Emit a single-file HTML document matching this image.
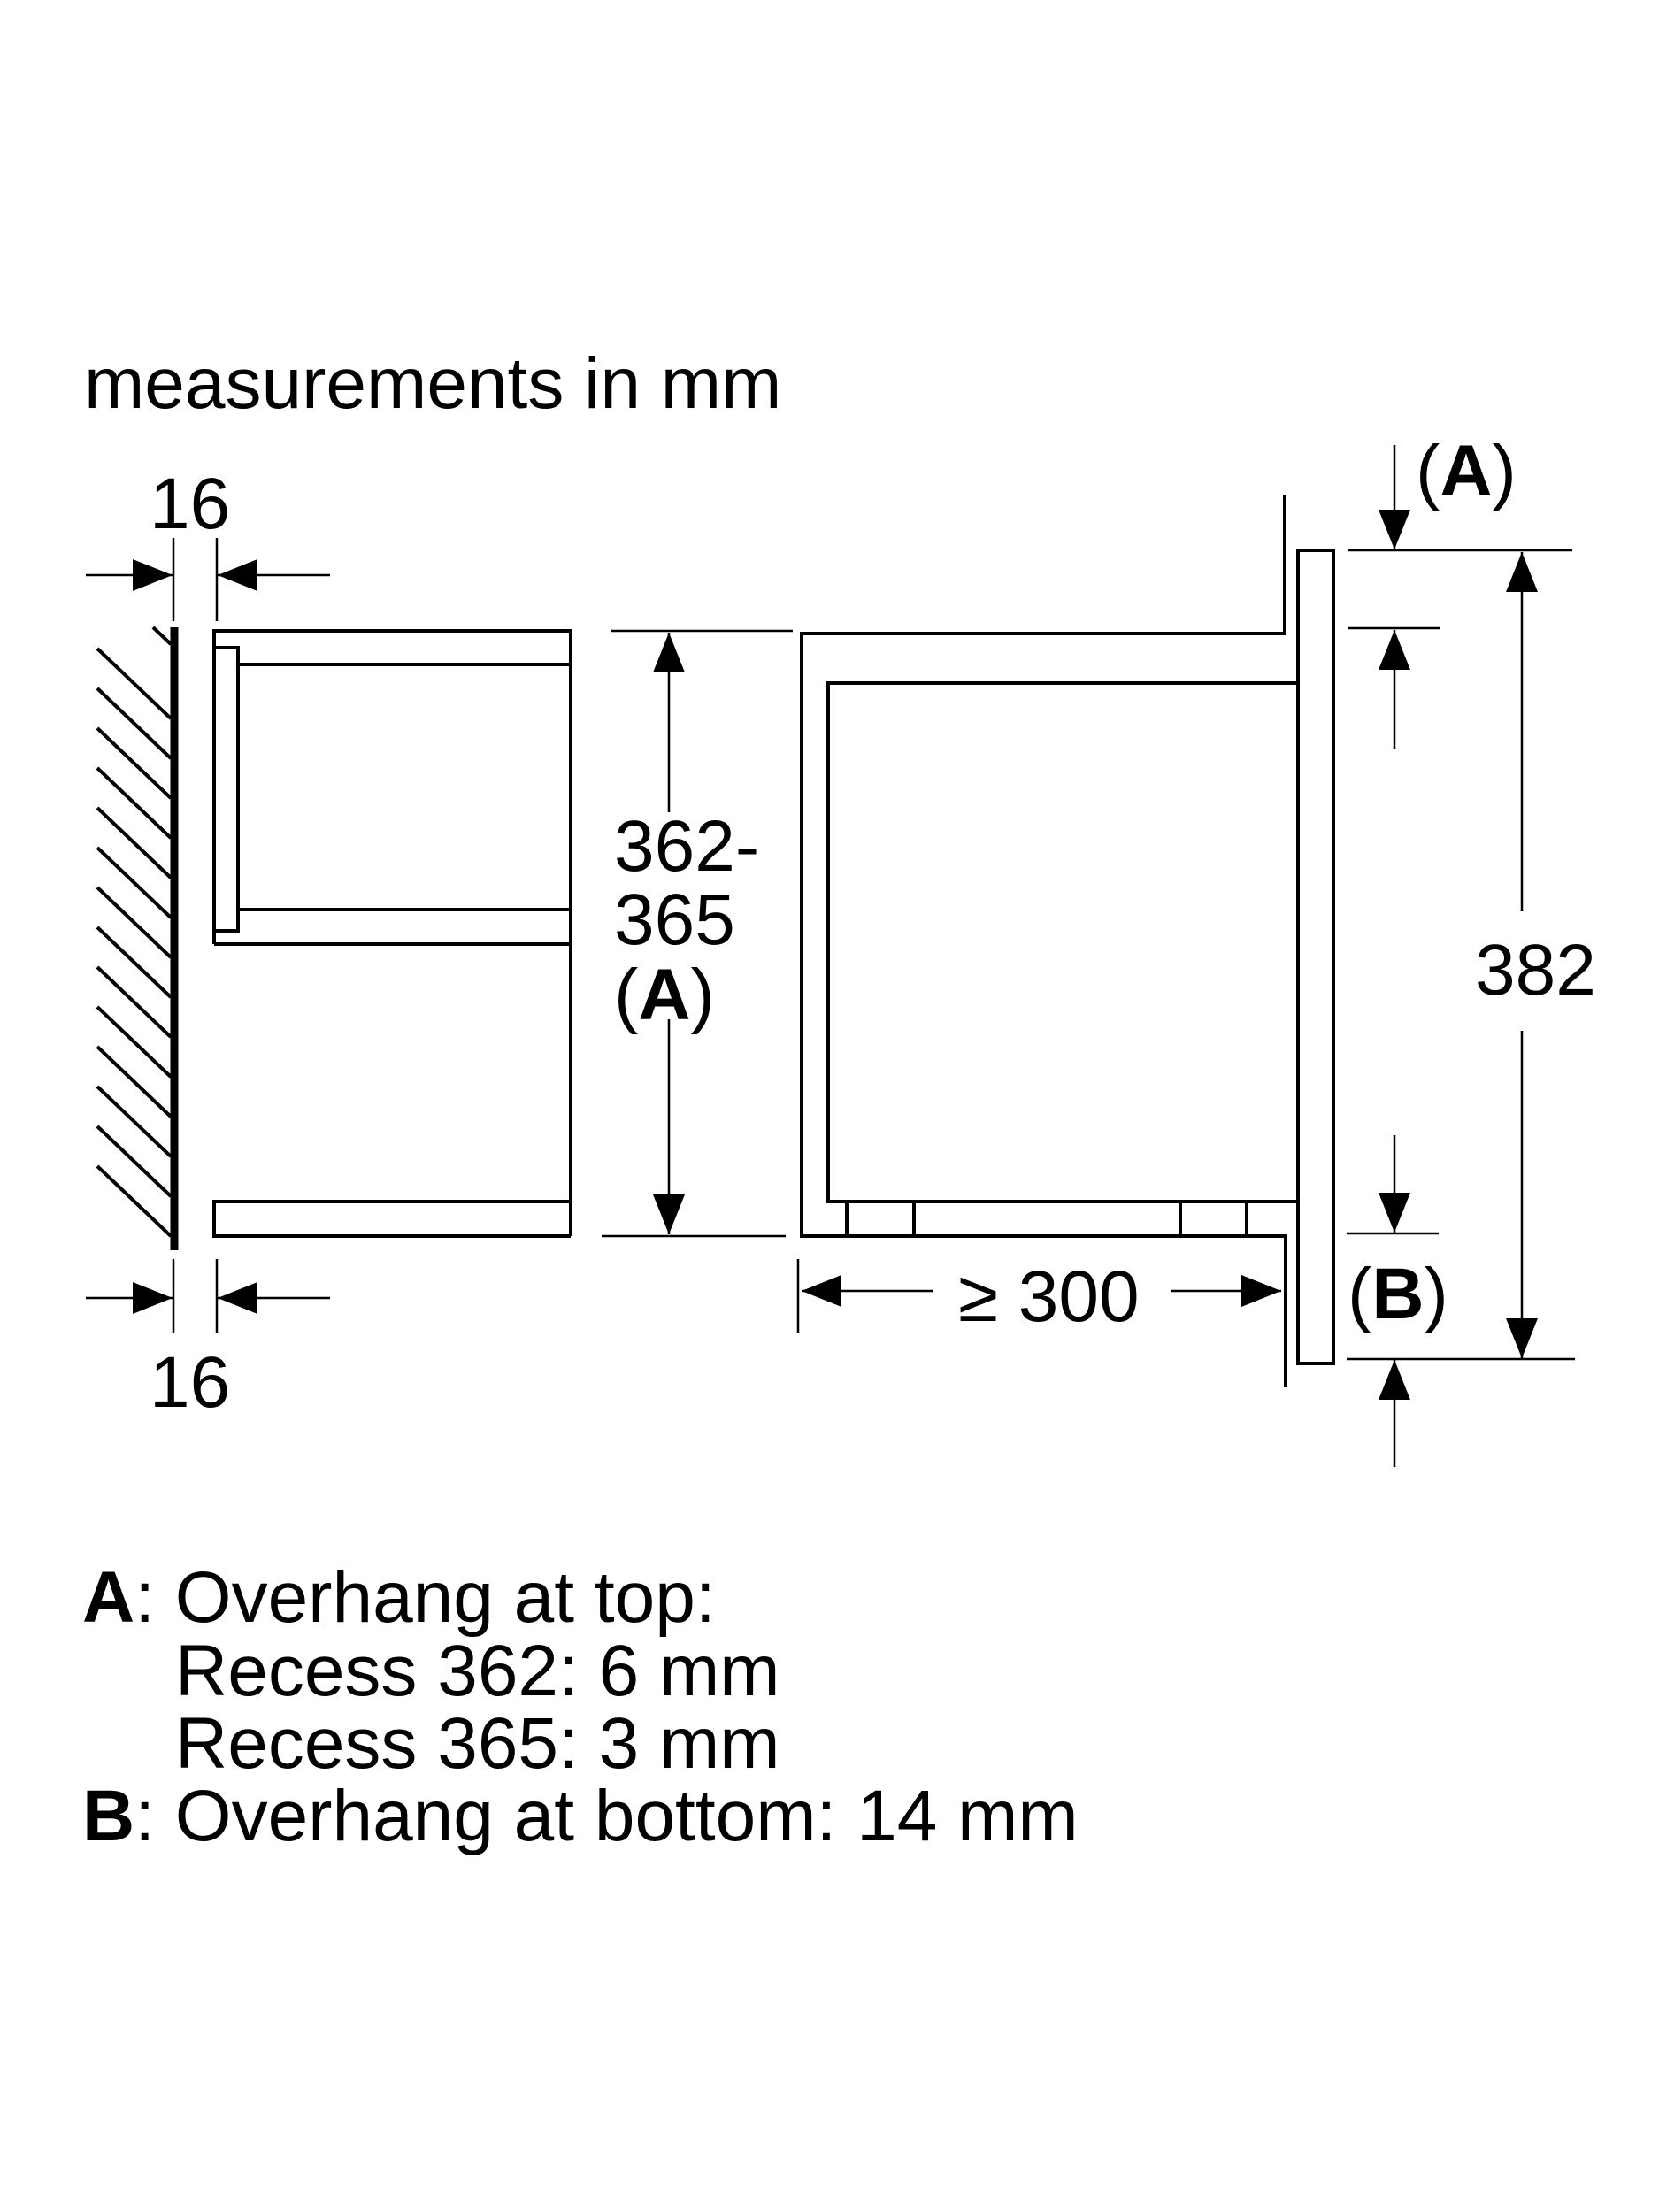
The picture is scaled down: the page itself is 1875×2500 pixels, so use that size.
<!DOCTYPE html>
<html><head><meta charset="utf-8"><style>
html,body{margin:0;padding:0;background:#fff}
svg{display:block}
text{font-family:"Liberation Sans",Arial,sans-serif;fill:#000}
</style></head><body>
<svg width="1875" height="2500" viewBox="0 0 1875 2500" xmlns="http://www.w3.org/2000/svg">
<defs>
<marker id="a" viewBox="0 0 45 36" refX="45" refY="18" markerWidth="45" markerHeight="36" markerUnits="userSpaceOnUse" orient="auto"><path d="M0,0 L45,18 L0,36 Z" fill="#000"/></marker>
</defs>
<text x="95" y="461" font-size="82">measurements in mm</text>

<g stroke="#000" stroke-width="4" fill="none">
<line x1="197" y1="709" x2="197" y2="1413" stroke-width="9"/>
<line x1="173" y1="709" x2="193" y2="728"/>
<line x1="110" y1="733" x2="193" y2="812"/>
<line x1="110" y1="778" x2="193" y2="857"/>
<line x1="110" y1="823" x2="193" y2="902"/>
<line x1="110" y1="868" x2="193" y2="947"/>
<line x1="110" y1="913" x2="193" y2="992"/>
<line x1="110" y1="958" x2="193" y2="1037"/>
<line x1="110" y1="1003" x2="193" y2="1082"/>
<line x1="110" y1="1048" x2="193" y2="1127"/>
<line x1="110" y1="1093" x2="193" y2="1172"/>
<line x1="110" y1="1138" x2="193" y2="1217"/>
<line x1="110" y1="1183" x2="193" y2="1262"/>
<line x1="110" y1="1228" x2="193" y2="1307"/>
<line x1="110" y1="1273" x2="193" y2="1352"/>
<line x1="110" y1="1318" x2="193" y2="1397"/>

<path d="M242,1067 L242,713 L645,713 L645,1397"/>
<path d="M242,732 L269,732 L269,1052 L242,1052"/>
<line x1="269" y1="751" x2="645" y2="751"/>
<line x1="269" y1="1028" x2="645" y2="1028"/>
<line x1="242" y1="1067" x2="645" y2="1067"/>
<path d="M645,1358 L242,1358 L242,1397 L645,1397"/>

<path d="M1452,559 L1452,716 L906,716 L906,1397 L1453,1397 L1453,1568"/>
<path d="M1467,772 L936,772 L936,1358 L1467,1358"/>
<line x1="957" y1="1358" x2="957" y2="1397"/>
<line x1="1033" y1="1358" x2="1033" y2="1397"/>
<line x1="1334" y1="1358" x2="1334" y2="1397"/>
<line x1="1409" y1="1358" x2="1409" y2="1397"/>
<rect x="1467" y="622" width="40" height="919"/>
</g>

<g stroke="#000" stroke-width="2.5" fill="none">
<line x1="196" y1="608" x2="196" y2="702"/>
<line x1="245" y1="608" x2="245" y2="702"/>
<line x1="97" y1="650" x2="195" y2="650" marker-end="url(#a)"/>
<line x1="373" y1="650" x2="246" y2="650" marker-end="url(#a)"/>
<line x1="196" y1="1423" x2="196" y2="1507"/>
<line x1="245" y1="1423" x2="245" y2="1507"/>
<line x1="97" y1="1467" x2="195" y2="1467" marker-end="url(#a)"/>
<line x1="373" y1="1467" x2="246" y2="1467" marker-end="url(#a)"/>
<line x1="690" y1="713" x2="896" y2="713"/>
<line x1="680" y1="1397" x2="888" y2="1397"/>
<line x1="756" y1="918" x2="756" y2="715" marker-end="url(#a)"/>
<line x1="756" y1="1152" x2="756" y2="1395" marker-end="url(#a)"/>
<line x1="902" y1="1423" x2="902" y2="1507"/>
<line x1="1055" y1="1459" x2="906" y2="1459" marker-end="url(#a)"/>
<line x1="1324" y1="1459" x2="1448" y2="1459" marker-end="url(#a)"/>
<line x1="1524" y1="622" x2="1777" y2="622"/>
<line x1="1524" y1="710" x2="1628" y2="710"/>
<line x1="1522" y1="1394" x2="1626" y2="1394"/>
<line x1="1522" y1="1536" x2="1780" y2="1536"/>
<line x1="1576" y1="503" x2="1576" y2="621" marker-end="url(#a)"/>
<line x1="1576" y1="846" x2="1576" y2="712" marker-end="url(#a)"/>
<line x1="1576" y1="1283" x2="1576" y2="1393" marker-end="url(#a)"/>
<line x1="1576" y1="1658" x2="1576" y2="1537" marker-end="url(#a)"/>
<line x1="1720" y1="1030" x2="1720" y2="624" marker-end="url(#a)"/>
<line x1="1720" y1="1165" x2="1720" y2="1535" marker-end="url(#a)"/>
</g>

<g font-size="82">
<text x="169" y="597">16</text>
<text x="169" y="1590">16</text>
<text x="694" y="984">362-</text>
<text x="694" y="1067">365</text>
<text x="694" y="1152">(<tspan font-weight="bold">A</tspan>)</text>
<text x="1083" y="1493">≥ 300</text>
<text x="1667" y="1124">382</text>
<text x="1600" y="560">(<tspan font-weight="bold">A</tspan>)</text>
<text x="1523" y="1490">(<tspan font-weight="bold">B</tspan>)</text>
</g>

<g font-size="82">
<text x="93" y="1833"><tspan font-weight="bold">A</tspan>: Overhang at top:</text>
<text x="198" y="1916">Recess 362: 6 mm</text>
<text x="198" y="1998">Recess 365: 3 mm</text>
<text x="93" y="2080"><tspan font-weight="bold">B</tspan>: Overhang at bottom: 14 mm</text>
</g>
</svg>
</body></html>
